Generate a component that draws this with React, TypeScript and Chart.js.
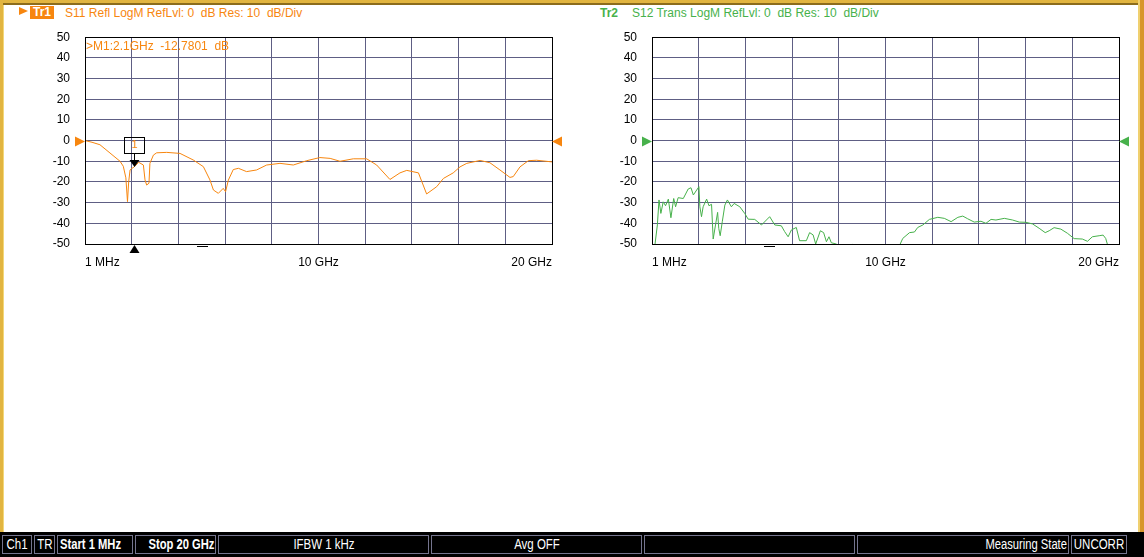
import React, { useEffect, useRef } from "react";
import { Chart, registerables } from "chart.js";

Chart.register(...registerables);

// ---- data (frequency in GHz, level in dB) ----
const s11Freq = [
  0.001, 0.3, 0.64, 1.07, 1.5, 1.64, 1.75, 1.82, 1.87, 1.93, 2.0, 2.1, 2.3, 2.5, 2.57, 2.64, 2.74, 2.78,
  2.93, 3.07, 3.5, 4.07, 4.64, 5.07, 5.35, 5.5, 5.71, 5.92, 6.02, 6.14, 6.35, 6.57, 6.92, 7.35, 7.78,
  8.35, 8.92, 9.5, 10.06, 10.5, 10.92, 11.49, 12.06, 12.49, 13.06, 13.49, 13.78, 14.28, 14.63, 15.06,
  15.35, 15.77, 16.06, 16.35, 16.92, 17.34, 17.77, 18.2, 18.34, 18.63, 18.99, 19.34, 20.0,
];
const s11Db = [
  0, -0.8, -2, -6, -10, -12.4, -18, -29.5, -20, -14.2, -13.5, -12.78, -10.5, -11.8, -19, -21.5, -20.6, -11,
  -7, -5.9, -5.7, -6.2, -9.4, -12.6, -19, -23.9, -25.5, -23.1, -24.7, -19.1, -14, -13.4, -15, -14.2, -11.8,
  -11, -11.8, -9.7, -8.2, -8.6, -10, -8.8, -8.8, -11.8, -18.8, -15.6, -14.4, -15.6, -25.8, -22.3,
  -18.3, -15.6, -12.7, -11, -9.6, -10.7, -14.2, -17.8, -17.4, -12.7, -9.7, -9.5, -10.3,
];

const s12Freq = [
  0.001, 0.13, 0.23, 0.3, 0.38, 0.48, 0.58, 0.7, 0.81, 0.93, 1.01, 1.12, 1.34, 1.55, 1.67, 1.77, 2.01,
  2.05, 2.12, 2.19, 2.34, 2.44, 2.55, 2.62, 2.72, 2.81, 2.86, 2.92, 3.01, 3.12, 3.23, 3.4, 3.52, 3.76,
  3.97, 4.12, 4.4, 4.69, 5.04, 5.26, 5.54, 5.68, 5.83, 5.97, 6.18, 6.32, 6.61, 6.75, 6.9, 7.01, 7.21,
  7.35, 7.47, 7.58, 7.68, 7.89, 8.2, 8.6, 9.0, 10.0, 10.63, 10.74, 11.03, 11.24, 11.38, 11.6, 11.88,
  12.24, 12.52, 12.81, 13.1, 13.31, 13.52, 13.8, 14.09, 14.3, 14.52, 14.73, 15.09, 15.44, 15.73,
  16.01, 16.3, 16.58, 16.84, 17.01, 17.22, 17.51, 17.79, 18.08, 18.43, 18.65, 18.86, 19.15, 19.32,
  19.43, 19.5, 19.6, 20.0,
];
const s12Db = [
  -60, -50, -40.8, -28.7, -35.2, -29.6, -31.5, -28.3, -37.3, -28, -32, -27.6, -28, -23.4, -22.8, -26.3, -22.3,
  -32, -36.8, -32, -28.3, -31.5, -30.8, -47.6, -40.8, -34.7, -42.5, -46, -39.2, -31.2, -28.7, -32, -30.4, -32,
  -35.2, -38, -38.1, -40.8, -36.8, -40.8, -41.2, -44, -46.5, -43.2, -42, -48.4, -48.4, -44.5, -45.6, -50, -43.6,
  -44.5, -48.9, -46.5, -49.4, -50, -53, -50.2, -54, -56, -50, -47.3, -44.5, -44.2, -42, -40.8, -38.1,
  -37.1, -37.6, -39.2, -37.1, -36.5, -37.8, -39.4, -39, -40, -38.1, -38.4, -37.6, -38.4, -39.4,
  -39.5, -40.3, -42.4, -44.5, -43.6, -42.1, -42.8, -44.8, -47.4, -47.6, -48.7, -46.5, -46, -45.7,
  -47.3, -50, -56, -58,
];

const xTickLabels: Record<number, string> = { 0: "1 MHz", 10: "10 GHz", 20: "20 GHz" };
const markerFreq = 2.1;
const markerDb = -12.78;
const markerText = ">M1:2.1GHz  -12.7801  dB";

const ORANGE = "#f7860f";
const GREEN = "#47b14b";
const GRID = "#5e5e84";
const FONT = '"Liberation Sans", Arial, sans-serif';

const decor = {
  id: "vnaDecor",
  afterDraw(chart: any, _args: any, opts: any) {
    const { ctx, chartArea: a, scales } = chart;
    const x = scales.x;
    const y = scales.y;
    ctx.save();
    // frame
    ctx.strokeStyle = "#000";
    ctx.lineWidth = 1;
    const L = Math.round(a.left), T = Math.round(a.top), R = Math.round(a.right), B = Math.round(a.bottom);
    ctx.strokeRect(L + 0.5, T + 0.5, R - L, B - T);
    // reference level triangles
    const y0 = Math.round(y.getPixelForValue(0)) + 0.5;
    ctx.fillStyle = opts.color;
    ctx.beginPath();
    ctx.moveTo(L - 10, y0 - 5);
    ctx.lineTo(L, y0);
    ctx.lineTo(L - 10, y0 + 5);
    ctx.closePath();
    ctx.fill();
    ctx.beginPath();
    ctx.moveTo(R + 10, y0 - 5);
    ctx.lineTo(R, y0);
    ctx.lineTo(R + 10, y0 + 5);
    ctx.closePath();
    ctx.fill();
    // small dash below axis
    const xd = Math.round(x.getPixelForValue(5));
    ctx.fillStyle = "#000";
    ctx.fillRect(xd - 5, B + 2, 11, 1);
    if (opts.marker) {
      const mx = Math.round(x.getPixelForValue(markerFreq)) + 0.5;
      const my = Math.round(y.getPixelForValue(markerDb));
      // box
      ctx.strokeStyle = "#000";
      ctx.strokeRect(mx - 10, my - 30 + 0.5, 20, 16);
      ctx.fillStyle = opts.color;
      ctx.font = `11px ${FONT}`;
      ctx.textAlign = "center";
      ctx.textBaseline = "middle";
      ctx.fillText("1", mx, my - 22);
      // stem + triangle
      ctx.beginPath();
      ctx.moveTo(mx, my - 14);
      ctx.lineTo(mx, my - 7);
      ctx.stroke();
      ctx.fillStyle = "#000";
      ctx.beginPath();
      ctx.moveTo(mx - 5, my - 7);
      ctx.lineTo(mx + 5, my - 7);
      ctx.lineTo(mx, my);
      ctx.closePath();
      ctx.fill();
      // bottom triangle
      ctx.beginPath();
      ctx.moveTo(mx, B + 1);
      ctx.lineTo(mx + 5, B + 9);
      ctx.lineTo(mx - 5, B + 9);
      ctx.closePath();
      ctx.fill();
      // marker readout
      ctx.fillStyle = opts.color;
      ctx.font = `12px ${FONT}`;
      ctx.textAlign = "left";
      ctx.textBaseline = "middle";
      ctx.fillText(markerText, L + 1, T + 10);
    }
    ctx.restore();
  },
};

function VnaChart(props: { freq: number[]; db: number[]; color: string; marker: boolean; left: number }) {
  const ref = useRef<HTMLCanvasElement>(null);
  useEffect(() => {
    const chart = new Chart(ref.current as HTMLCanvasElement, {
      type: "line",
      data: {
        datasets: [
          {
            data: props.freq.map((f, i) => ({ x: f, y: props.db[i] })),
            borderColor: props.color,
            borderWidth: 1,
            pointRadius: 0,
            tension: 0,
            fill: false,
          },
        ],
      },
      options: {
        animation: false,
        responsive: false,
        devicePixelRatio: 1,
        layout: { padding: { top: 0, right: 24, left: 0, bottom: 0 } },
        plugins: {
          legend: { display: false },
          tooltip: { enabled: false },
          vnaDecor: { color: props.color, marker: props.marker },
        } as any,
        scales: {
          x: {
            type: "linear",
            min: 0,
            max: 20,
            afterFit: (s: any) => {
              s.height = 36;
            },
            grid: { color: GRID, lineWidth: 1, drawTicks: false },
            border: { display: true, color: "#000" },
            ticks: {
              stepSize: 2,
              autoSkip: false,
              maxRotation: 0,
              align: "inner",
              padding: 11,
              color: "#000",
              font: { family: FONT, size: 12 },
              callback: (v: any) => {
                const k = Math.round(Number(v));
                return Math.abs(Number(v) - k) < 1e-6 && xTickLabels[k] ? xTickLabels[k] : "";
              },
            },
          },
          y: {
            type: "linear",
            min: -50,
            max: 50,
            afterFit: (s: any) => {
              s.width = 45;
            },
            grid: { color: GRID, lineWidth: 1, drawTicks: false },
            border: { display: true, color: "#000" },
            ticks: {
              stepSize: 10,
              padding: 15,
              color: "#000",
              font: { family: FONT, size: 12 },
              callback: (v: any) => String(v),
            },
          },
        },
      } as any,
      plugins: [decor as any],
    });
    return () => chart.destroy();
  }, []);
  return (
    <canvas
      ref={ref}
      width={536}
      height={265}
      style={{ position: "absolute", left: props.left, top: 15, width: 536, height: 265 }}
    />
  );
}

const cells = [
  { l: 2, r: 33, text: "Ch1", align: "center", bold: false },
  { l: 34, r: 56, text: "TR", align: "center", bold: false },
  { l: 57, r: 134, text: "Start 1 MHz", align: "left", bold: true },
  { l: 135, r: 217, text: "Stop 20 GHz", align: "right", bold: true },
  { l: 218, r: 430, text: "IFBW 1 kHz", align: "center", bold: false },
  { l: 431, r: 643, text: "Avg OFF", align: "center", bold: false },
  { l: 644, r: 856, text: "", align: "center", bold: false },
  { l: 857, r: 1070, text: "Measuring State", align: "right", bold: false },
  { l: 1071, r: 1128, text: "UNCORR", align: "center", bold: false },
];

export default function App() {
  useEffect(() => {
    document.body.style.margin = "0";
  }, []);
  return (
    <div
      style={{
        position: "absolute",
        left: 0,
        top: 0,
        width: 1144,
        height: 557,
        background: "#fff",
        overflow: "hidden",
        fontFamily: FONT,
      }}
    >
      {/* frame */}
      <div style={{ position: "absolute", left: 0, top: 0, width: 1144, height: 3, background: "#e2b540" }} />
      <div style={{ position: "absolute", left: 0, top: 3, width: 1140, height: 2, background: "#8c6c1c" }} />
      <div style={{ position: "absolute", left: 0, top: 0, width: 3, height: 532, background: "#e2b540" }} />
      <div style={{ position: "absolute", left: 3, top: 5, width: 1, height: 527, background: "#f3d779" }} />
      <div style={{ position: "absolute", left: 1138, top: 0, width: 2, height: 532, background: "#f0d070" }} />
      <div style={{ position: "absolute", left: 1140, top: 0, width: 4, height: 532, background: "#d8962c" }} />

      {/* headers */}
      <div
        style={{
          position: "absolute",
          left: 19,
          top: 7,
          width: 0,
          height: 0,
          borderTop: "4px solid transparent",
          borderBottom: "4px solid transparent",
          borderLeft: `9px solid ${ORANGE}`,
        }}
      />
      <div
        style={{
          position: "absolute",
          left: 30,
          top: 6,
          width: 24,
          height: 13,
          background: ORANGE,
          color: "#fff",
          fontWeight: "bold",
          fontSize: 12,
          lineHeight: "13px",
          textAlign: "center",
        }}
      >
        Tr1
      </div>
      <div style={{ position: "absolute", left: 65, top: 6, fontSize: 12, lineHeight: "14px", color: ORANGE, whiteSpace: "pre" }}>
        {"S11 Refl LogM RefLvl: 0  dB Res: 10  dB/Div"}
      </div>
      <div style={{ position: "absolute", left: 600, top: 6, fontSize: 12, lineHeight: "14px", color: GREEN, fontWeight: "bold" }}>
        Tr2
      </div>
      <div style={{ position: "absolute", left: 632, top: 6, fontSize: 12, lineHeight: "14px", color: GREEN, whiteSpace: "pre" }}>
        {"S12 Trans LogM RefLvl: 0  dB Res: 10  dB/Div"}
      </div>

      <VnaChart freq={s11Freq} db={s11Db} color={ORANGE} marker={true} left={40} />
      <VnaChart freq={s12Freq} db={s12Db} color={GREEN} marker={false} left={607} />

      {/* status bar */}
      <div style={{ position: "absolute", left: 0, top: 532, width: 1144, height: 25, background: "#000" }}>
        {cells.map((c, i) => {
          const spanStyle: any = {
            position: "absolute",
            top: 0,
            whiteSpace: "pre",
            color: "#fff",
            fontFamily: FONT,
            fontSize: 14,
            lineHeight: "17px",
            fontWeight: c.bold ? "bold" : "normal",
          };
          if (c.align === "left") {
            spanStyle.left = 2;
            spanStyle.transform = "scaleX(0.8)";
            spanStyle.transformOrigin = "left center";
          } else if (c.align === "right") {
            spanStyle.right = 1;
            spanStyle.transform = "scaleX(0.8)";
            spanStyle.transformOrigin = "right center";
          } else {
            spanStyle.left = "50%";
            spanStyle.transform = "translateX(-50%) scaleX(0.82)";
            spanStyle.transformOrigin = "center center";
          }
          return (
            <div
              key={i}
              style={{
                position: "absolute",
                left: c.l,
                top: 3,
                width: c.r - c.l - 1,
                height: 19,
                border: "1px solid #74748e",
                boxSizing: "border-box",
              }}
            >
              <span style={spanStyle}>{c.text}</span>
            </div>
          );
        })}
      </div>
    </div>
  );
}
